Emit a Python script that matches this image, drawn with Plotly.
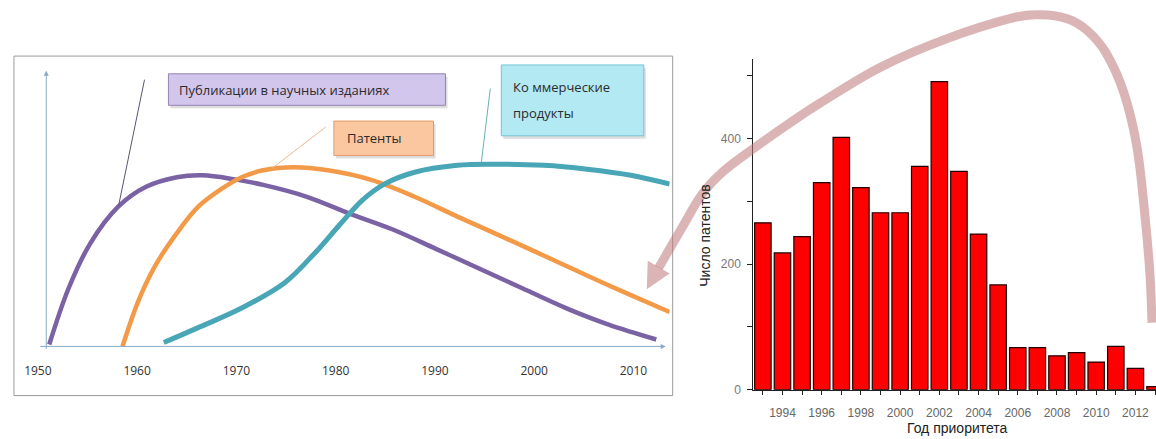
import plotly.graph_objects as go

W, H = 1156, 439

# ---- Left panel: conceptual curves (relative level, 0..100) ----
pub_years = [1951.15, 1953.1, 1955.3, 1958.1, 1960.9, 1964.0, 1966.6, 1969.7, 1972.7,
             1977.1, 1981.4, 1985.7, 1990.1, 1994.5, 1998.8, 2003.2, 2007.5, 2012.3]
pub_level = [0.7, 21.1, 37.5, 50.7, 57.9, 61.4, 62.1, 60.7, 58.6,
             54.3, 48.2, 42.5, 35.4, 28.2, 21.1, 13.9, 7.9, 2.5]

pat_years = [1958.53, 1960.08, 1961.83, 1964.0, 1966.16, 1968.35, 1970.53, 1972.69, 1975.75,
             1979.22, 1983.59, 1987.95, 1992.27, 1996.66, 2001.0, 2005.32, 2009.74, 2013.65]
pat_level = [0.0, 16.1, 29.3, 41.1, 50.7, 56.8, 61.4, 63.9, 65.0,
             63.9, 60.4, 54.3, 47.1, 40.0, 32.9, 25.7, 18.6, 12.5]

com_years = [1962.69, 1966.16, 1970.53, 1974.9, 1977.91, 1980.52, 1982.73, 1984.9, 1987.95,
             1992.27, 1995.78, 2001.0, 2005.32, 2009.74, 2013.65]
com_level = [1.4, 6.8, 13.9, 23.2, 33.9, 44.6, 53.2, 58.9, 63.2,
             65.7, 66.1, 65.7, 64.3, 62.1, 58.9]

decade_ticks = [1950, 1960, 1970, 1980, 1990, 2000, 2010]

# ---- Right panel: patents by priority year ----
bar_years = list(range(1993, 2014))
bar_counts = [266, 218, 244, 330, 402, 322, 282, 282, 356, 491, 348,
              248, 167, 67, 67, 54, 59, 44, 69, 34, 5]
count_ticks = [0, 100, 200, 300, 400, 500]
count_labels = ["0", "", "200", "", "400", ""]
year_labels = [str(y) if y % 2 == 0 else "" for y in bar_years]


def px(x):
    return x / W


def py(y):
    return 1 - y / H


fig = go.Figure()

fig.add_trace(go.Scatter(x=pub_years, y=pub_level, mode="lines",
                         line=dict(color="#7a62a4", width=4.5, shape="spline", smoothing=1.0),
                         xaxis="x", yaxis="y", hoverinfo="skip"))
fig.add_trace(go.Scatter(x=pat_years, y=pat_level, mode="lines",
                         line=dict(color="#f39a48", width=4.5, shape="spline", smoothing=1.0),
                         xaxis="x", yaxis="y", hoverinfo="skip"))
fig.add_trace(go.Scatter(x=com_years, y=com_level, mode="lines",
                         line=dict(color="#48a6b6", width=5, shape="spline", smoothing=1.0),
                         xaxis="x", yaxis="y", hoverinfo="skip"))

fig.add_trace(go.Bar(x=bar_years, y=bar_counts, width=0.84,
                     marker=dict(color="#ff0000", line=dict(color="#220000", width=1.2)),
                     xaxis="x2", yaxis="y2", hoverinfo="skip"))

shapes = []
annotations = []

# frame around the left chart
shapes.append(dict(type="rect", xref="paper", yref="paper",
                   x0=px(10), x1=px(671), y0=py(402), y1=py(57),
                   line=dict(color="#9a9a9a", width=1), fillcolor="rgba(0,0,0,0)", layer="below"))

# callout boxes: (x0, y0, x1, y1, fill, border)
boxes = [
    (165, 75, 443, 107, "#d3c6ec", "#9483b6"),
    (331, 123, 431, 158, "#fac7a0", "#e39c68"),
    (499, 66, 642, 138, "#b3e9f3", "#74c4d6"),
]
for x0, y0, x1, y1, fill, border in boxes:
    shapes.append(dict(type="rect", xref="paper", yref="paper",
                       x0=px(x0 + 2), x1=px(x1 + 2), y0=py(y1 + 3), y1=py(y0 + 3),
                       line=dict(width=0), fillcolor="rgba(120,120,120,0.25)", layer="above"))
    shapes.append(dict(type="rect", xref="paper", yref="paper",
                       x0=px(x0), x1=px(x1), y0=py(y1), y1=py(y0),
                       line=dict(color=border, width=1), fillcolor=fill, layer="above"))

# leader lines from the callouts to the curves
leaders = [
    ((141, 81), (115, 209), "#5e5470"),
    ((323, 129), (269, 171), "#f2b88c"),
    ((488, 90), (479, 165), "#6aaebd"),
]
for (xa, ya), (xb, yb), c in leaders:
    shapes.append(dict(type="line", xref="paper", yref="paper",
                       x0=px(xa), y0=py(ya), x1=px(xb), y1=py(yb),
                       line=dict(color=c, width=1)))

box_font = dict(family="Open Sans, sans-serif", size=13, color="#2b2b2b")
for text, x, y in [("Публикации в научных изданиях", 174, 91),
                   ("Патенты", 342, 140),
                   ("Ко ммерческие", 509, 88),
                   ("продукты", 509, 115)]:
    annotations.append(dict(text=text, xref="paper", yref="paper", x=px(x), y=py(y),
                            xanchor="left", yanchor="middle", showarrow=False, font=box_font))

# axis arrows of the left chart
axis_col = "#86a9c9"
annotations.append(dict(text="", xref="x", yref="y", axref="x", ayref="y",
                        x=2013.25, y=0, ax=1950.1, ay=0, showarrow=True,
                        arrowhead=2, arrowsize=1, arrowwidth=1, arrowcolor=axis_col))
annotations.append(dict(text="", xref="x", yref="y", axref="x", ayref="y",
                        x=1950.85, y=100, ax=1950.85, ay=-1.5, showarrow=True,
                        arrowhead=2, arrowsize=1, arrowwidth=1, arrowcolor=axis_col))

# axis titles of the right chart
title_font = dict(family="Liberation Sans, Arial, sans-serif", size=14, color="#222")
annotations.append(dict(text="Число патентов", xref="paper", yref="paper",
                        x=px(704), y=py(240), textangle=-90, showarrow=False,
                        xanchor="center", yanchor="middle", font=title_font))
annotations.append(dict(text="Год приоритета", xref="paper", yref="paper",
                        x=px(957), y=py(425), showarrow=False,
                        xanchor="center", yanchor="top", font=title_font))

# large curved arrow linking the two charts
arrow_pts = [(657, 272), (680, 232), (700, 198), (722, 174), (752, 151), (790, 124),
             (820, 104), (880, 68), (947, 39), (1013, 18), (1040, 15), (1067, 19),
             (1087, 31), (1106, 54), (1124, 95), (1137, 150), (1145, 220), (1150, 280),
             (1152, 328)]


def catmull_path(pts):
    p = [(px(x), py(y)) for x, y in pts]
    d = f"M {p[0][0]:.5f},{p[0][1]:.5f}"
    n = len(p)
    for i in range(n - 1):
        p0 = p[i - 1] if i > 0 else p[i]
        p1 = p[i]
        p2 = p[i + 1]
        p3 = p[i + 2] if i + 2 < n else p[i + 1]
        c1 = (p1[0] + (p2[0] - p0[0]) / 6, p1[1] + (p2[1] - p0[1]) / 6)
        c2 = (p2[0] - (p3[0] - p1[0]) / 6, p2[1] - (p3[1] - p1[1]) / 6)
        d += f" C {c1[0]:.5f},{c1[1]:.5f} {c2[0]:.5f},{c2[1]:.5f} {p2[0]:.5f},{p2[1]:.5f}"
    return d


arrow_rgba = "rgba(190,120,120,0.55)"
shapes.append(dict(type="path", xref="paper", yref="paper", path=catmull_path(arrow_pts),
                   line=dict(color=arrow_rgba, width=9), fillcolor="rgba(0,0,0,0)", layer="above"))
head = [(645, 294), (646, 265), (668, 278)]
head_path = "M " + " L ".join(f"{px(x):.5f},{py(y):.5f}" for x, y in head) + " Z"
shapes.append(dict(type="path", xref="paper", yref="paper", path=head_path,
                   line=dict(width=0), fillcolor=arrow_rgba, layer="above"))

left_x0, left_x1 = 24, 668
right_x0 = 752

fig.update_layout(
    width=W, height=H,
    margin=dict(l=0, r=0, t=0, b=0),
    paper_bgcolor="white", plot_bgcolor="rgba(0,0,0,0)",
    showlegend=False,
    xaxis=dict(domain=[px(left_x0), px(left_x1)], range=[1949, 2013.65],
               tickvals=decade_ticks, ticks="outside", ticklen=13, tickcolor="rgba(0,0,0,0)",
               showgrid=False, zeroline=False, showline=False,
               tickfont=dict(family="Open Sans, sans-serif", size=12, color="#333")),
    yaxis=dict(domain=[py(352), py(72)], range=[0, 100], visible=False),
    xaxis2=dict(domain=[px(right_x0), 1.0], range=[1992.517, 2013.05], anchor="y2",
                tickvals=bar_years, ticktext=year_labels, ticks="outside", ticklen=4,
                tickcolor="#222", showgrid=False, zeroline=False,
                showline=True, linecolor="#222", linewidth=1.2, ticklabelstandoff=8,
                tickfont=dict(family="Liberation Sans, Arial, sans-serif", size=12, color="#666")),
    yaxis2=dict(domain=[py(396), py(60)], range=[0, 527], anchor="x2",
                tickvals=count_ticks, ticktext=count_labels, ticks="outside", ticklen=5,
                tickcolor="#222", showgrid=False, zeroline=False,
                showline=True, linecolor="#222", linewidth=1.2, ticklabelstandoff=4,
                tickfont=dict(family="Liberation Sans, Arial, sans-serif", size=12, color="#777")),
    shapes=shapes,
    annotations=annotations,
)

fig.write_html("out.html")
